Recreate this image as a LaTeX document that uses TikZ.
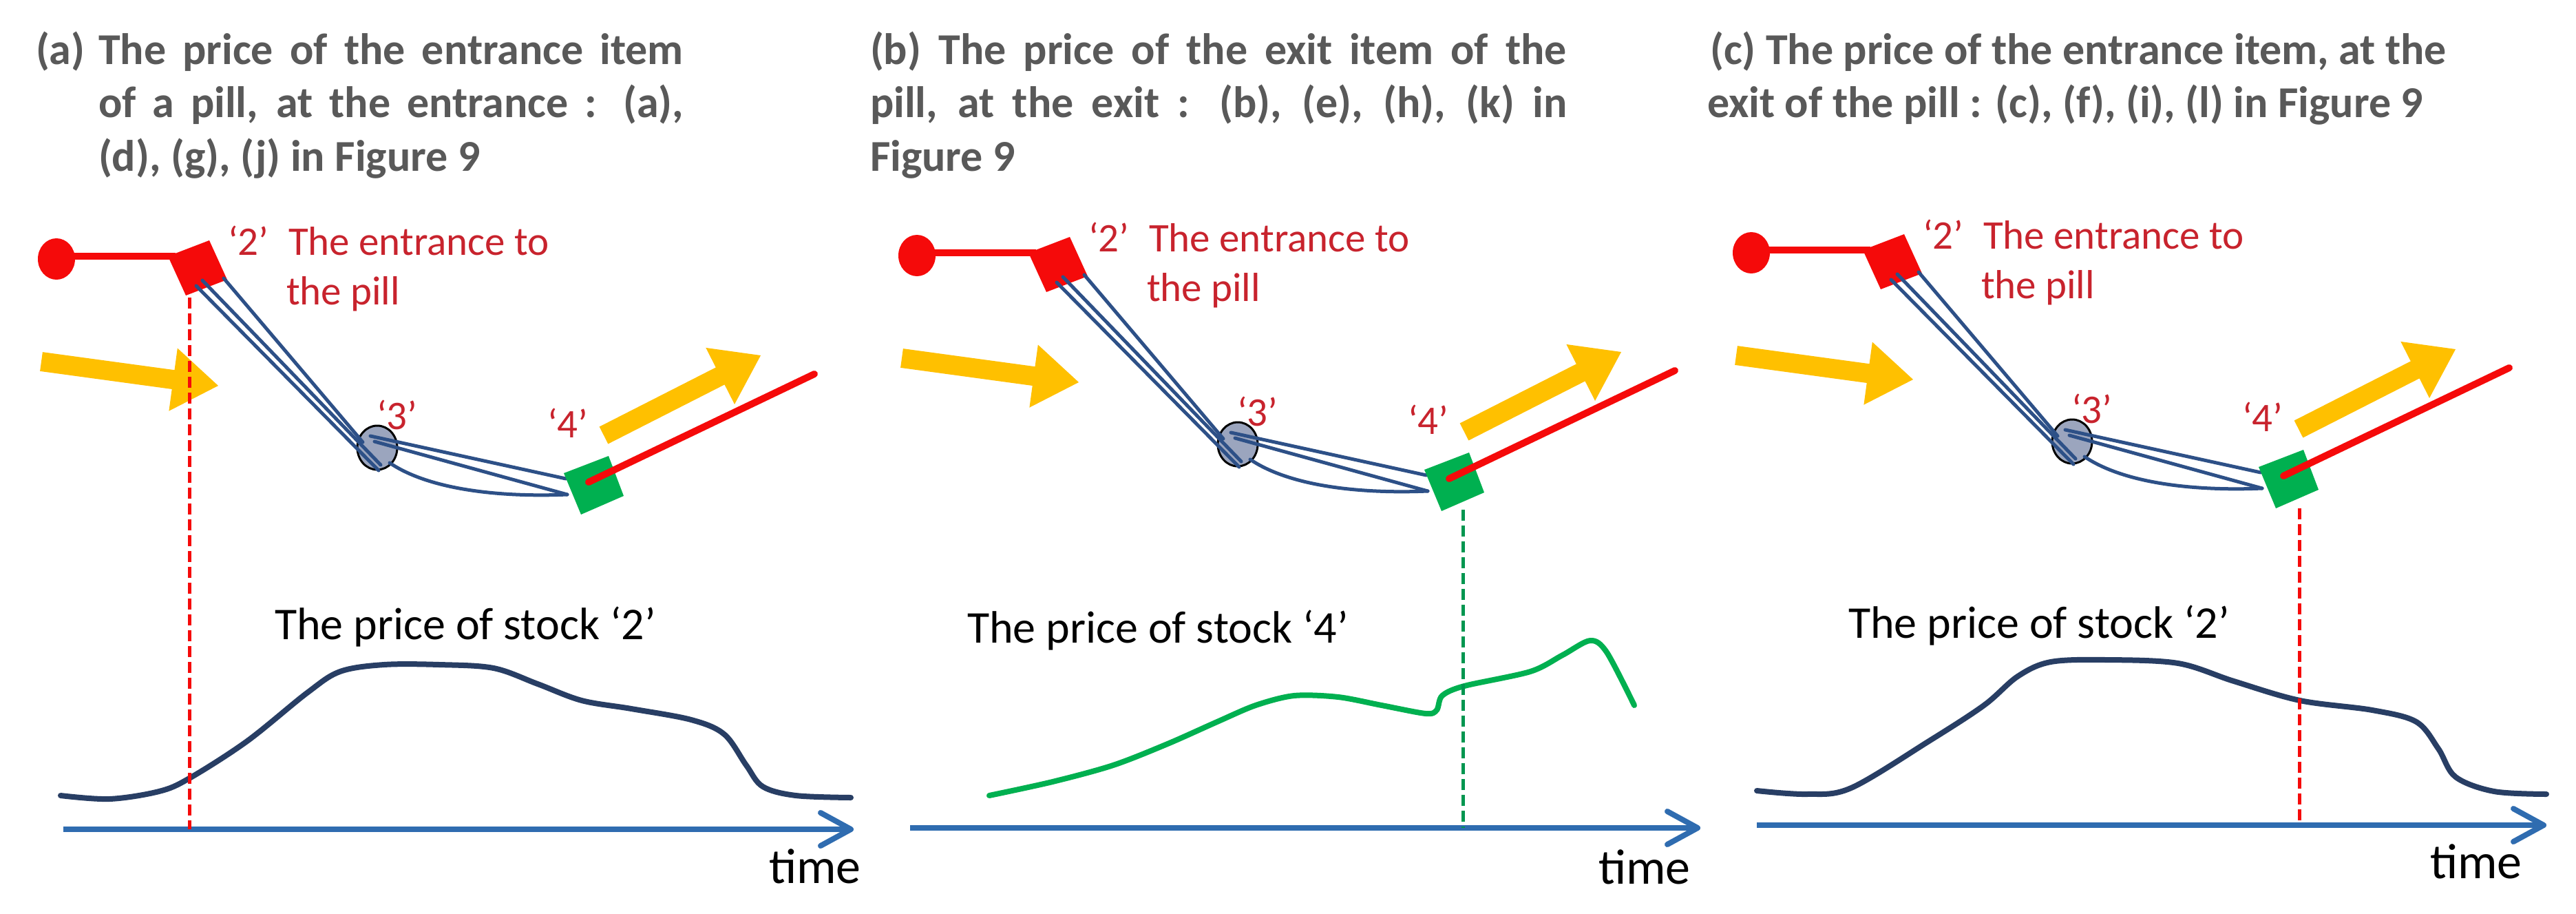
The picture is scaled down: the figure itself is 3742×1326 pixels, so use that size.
\documentclass[tikz,border=0pt]{standalone}
\usepackage{fontspec}
\setmainfont{Carlito}
\usetikzlibrary{calc}
\definecolor{titlegray}{RGB}{89,89,89}
\definecolor{redtxt}{RGB}{200,35,45}
\definecolor{brightred}{RGB}{245,10,10}
\definecolor{yel}{RGB}{255,192,0}
\definecolor{grn}{RGB}{0,176,80}
\definecolor{grndash}{RGB}{0,150,80}
\definecolor{pillblue}{RGB}{45,80,135}
\definecolor{ballfill}{RGB}{155,165,190}
\definecolor{navy}{RGB}{40,62,100}
\definecolor{axisblue}{RGB}{47,108,176}
\newcommand\titlefnt{\fontsize{64}{77}\selectfont\bfseries}
\newcommand\redfnt{\fontsize{59}{67}\selectfont}
\newcommand\blkfnt{\fontsize{66}{75}\selectfont}
\newcommand\timefnt{\fontsize{72}{80}\selectfont}
% yellow block arrow: #1 name prefix, #2 tail, #3 tip
\newcommand\yelarrow[3]{%
  \coordinate (#1t) at #2;
  \coordinate (#1h) at #3;
  \coordinate (#1c) at ($(#1h)!66pt!(#1t)$);
  \fill[yel] ($(#1t)!14pt!90:(#1h)$) -- ($(#1c)!14pt!-90:(#1t)$)
    -- ($(#1c)!46pt!-90:(#1t)$) -- (#1h) -- ($(#1c)!46pt!90:(#1t)$)
    -- ($(#1c)!14pt!90:(#1t)$) -- ($(#1t)!14pt!-90:(#1h)$) -- cycle;
}
\begin{document}
\begin{tikzpicture}[x=1pt,y=-1pt,
  every node/.style={inner sep=0pt,outer sep=0pt},
  titletxt/.style={anchor=base west,text=titlegray,font=\titlefnt},
  redlab/.style={anchor=base west,text=redtxt,font=\redfnt},
  blklab/.style={anchor=base west,text=black,font=\blkfnt},
  timelab/.style={anchor=base west,text=black,font=\timefnt},
  pillline/.style={draw=pillblue,line width=5pt,line cap=round},
  pricecurve/.style={draw=navy,line width=8pt,line cap=round},
  greencurve/.style={draw=grn,line width=8pt,line cap=round},
  axisline/.style={draw=axisblue,line width=8pt},
  chevron/.style={draw=axisblue,line width=8pt,line cap=round,line join=round},
  dashred/.style={draw=brightred,line width=5pt,dash pattern=on 16pt off 7pt},
  dashgrn/.style={draw=grndash,line width=5pt,dash pattern=on 16pt off 7pt}]
\useasboundingbox (0,0) rectangle (3742,1326);
\fill[white] (0,0) rectangle (3742,1326);

% ---------------- titles ----------------
\node[titletxt] (ta0) at (52,93) {(a)};
\node[titletxt] (ta1) at (143,93) {\makebox[850pt][s]{The price of the entrance item}};
\node[titletxt] (ta2) at (143,170) {\makebox[850pt][s]{of a pill, at the entrance : (a),}};
\node[titletxt] (ta3) at (143,248) {(d), (g), (j) in Figure 9};
\node[titletxt] (tb1) at (1264,93) {\makebox[1012pt][s]{(b) The price of the exit item of the}};
\node[titletxt] (tb2) at (1264,170) {\makebox[1012pt][s]{pill, at the exit : (b), (e), (h), (k) in}};
\node[titletxt] (tb3) at (1264,248) {Figure 9};
\node[titletxt] (tc1) at (2484,93) {(c) The price of the entrance item, at the};
\node[titletxt] (tc2) at (2480,170) {exit of the pill : (c), (f), (i), (l) in Figure 9};

% ---------------- the pill scene, three times ----------------
\foreach \p/\dx/\dy in {a/0/0,b/1250/-5,c/2462/-9}{
\begin{scope}[shift={(\dx,\dy)}]
  % red entrance
  \fill[brightred] (82,376) ellipse [x radius=27, y radius=30];
  \draw[brightred,line width=10pt] (100,372) -- (255,372);
  \fill[brightred] (244,372) -- (304,349) -- (330,406) -- (270,429) -- cycle;
  % ball 3
  \draw[black,line width=3pt,fill=ballfill] (548,650) ellipse [x radius=29, y radius=32];
  % pill lines from entrance to ball
  \draw[pillline] (285,415) -- (550,683);
  \draw[pillline] (294,407) -- (553,675);
  \draw[pillline] (325,404) -- (527,642);
  % pill loop from ball to exit
  \draw[pillline] (538,633) -- (822,695);
  \draw[pillline] (544,641) -- (824,718);
  \draw[pillline] (566,672) .. controls (625,712) and (730,722) .. (824,718);
  % green exit and red line
  \fill[grn] (819,687) -- (884,662) -- (906,720) -- (844,747) -- cycle;
  \draw[brightred,line width=10pt,line cap=round] (855,700) -- (1183,543);
  % yellow arrows
  \yelarrow{ya\p}{(60,525)}{(317,560)}
  \yelarrow{yb\p}{(877,632)}{(1105,516)}
  % labels
  \node[redlab] (two\p) at (331,370) {‘2’};
  \node[redlab] (ent\p) at (419,370) {The entrance to};
  \node[redlab] (pill\p) at (416,442) {the pill};
  \node[redlab] (three\p) at (547,623) {‘3’};
  \node[redlab] (four\p) at (795,635) {‘4’};
\end{scope}
}

% ---------------- panel (a) chart ----------------
\node[blklab] (stocka) at (399,928) {The price of stock ‘2’};
\draw[pricecurve] plot[smooth,tension=0.55] coordinates {(88,1155) (159,1160) (231,1149) (275,1130) (359,1076) (446,1006) (494,975) (558,965) (638,965) (717,970) (781,993) (845,1017) (917,1029) (1004,1045) (1052,1066) (1084,1111) (1108,1142) (1156,1155) (1236,1158)};
\coordinate (axa0) at (92,1204);
\coordinate (axa1) at (1236,1204);
\draw[axisline] (axa0) -- (axa1);
\draw[chevron] ($(axa1)+(-44,-24)$) -- (axa1) -- ($(axa1)+(-44,24)$);
\node[timelab] (timea) at (1117,1282) {time};
\coordinate (da0) at (275,432);
\coordinate (da1) at (275,1204);
\draw[dashred] (da0) -- (da1);

% ---------------- panel (b) chart ----------------
\node[blklab] (stockb) at (1405,933) {The price of stock ‘4’};
\draw[greencurve] plot[smooth,tension=0.5] coordinates {(1437,1155) (1529,1135) (1617,1111) (1696,1080) (1768,1048) (1824,1024) (1880,1010) (1944,1012) (2007,1024) (2071,1036) (2087,1031) (2095,1010) (2127,996) (2223,975) (2270,951) (2310,930) (2334,947) (2374,1024)};
\coordinate (axb0) at (1322,1202);
\coordinate (axb1) at (2466,1202);
\draw[axisline] (axb0) -- (axb1);
\draw[chevron] ($(axb1)+(-44,-24)$) -- (axb1) -- ($(axb1)+(-44,24)$);
\node[timelab] (timeb) at (2322,1283) {time};
\coordinate (db0) at (2125,740);
\coordinate (db1) at (2125,1202);
\draw[dashgrn] (db0) -- (db1);

% ---------------- panel (c) chart ----------------
\node[blklab] (stockc) at (2685,926) {The price of stock ‘2’};
\draw[pricecurve] plot[smooth,tension=0.55] coordinates {(2552,1148) (2625,1153) (2689,1144) (2802,1076) (2882,1024) (2931,982) (2979,961) (3059,958) (3164,963) (3245,989) (3341,1017) (3446,1031) (3510,1048) (3542,1087) (3567,1128) (3623,1149) (3699,1153)};
\coordinate (axc0) at (2552,1198);
\coordinate (axc1) at (3695,1198);
\draw[axisline] (axc0) -- (axc1);
\draw[chevron] ($(axc1)+(-44,-24)$) -- (axc1) -- ($(axc1)+(-44,24)$);
\node[timelab] (timec) at (3530,1275) {time};
\coordinate (dc0) at (3340,738);
\coordinate (dc1) at (3340,1198);
\draw[dashred] (dc0) -- (dc1);
\end{tikzpicture}
\end{document}
